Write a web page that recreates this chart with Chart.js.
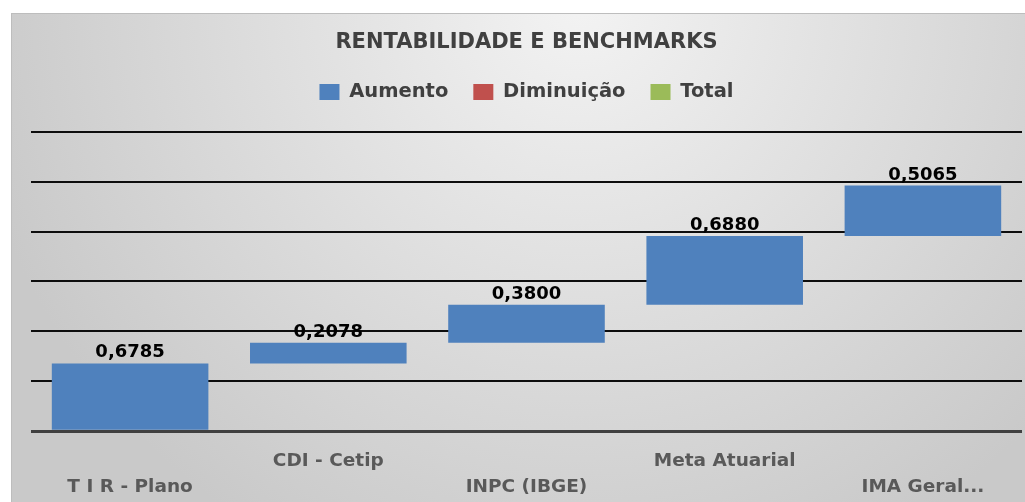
<!DOCTYPE html>
<html>
<head>
<meta charset="utf-8">
<script src="https://cdn.jsdelivr.net/npm/chart.js@4"></script>
<style>
  body { margin: 0; background: #fff; }
  #wrap { width: 1025px; height: 502px; }
</style>
</head>
<body>
<div id="wrap"><canvas id="myChart"></canvas></div>
<script>
// data
const categories = ['T I R - Plano', 'CDI - Cetip', 'INPC (IBGE)', 'Meta Atuarial', 'IMA Geral...'];
const increases = [0.6785, 0.2078, 0.3800, 0.6880, 0.5065];
const yTicks = [0, 0.5, 1, 1.5, 2, 2.5, 3];

// waterfall: each bar floats from the running total
let running = 0;
const floating = increases.map(v => {
  const bar = [running, running + v];
  running += v;
  return bar;
});

const fontFamily = "'DejaVu Sans', sans-serif";

// gray gradient panel behind the chart
const panelBg = {
  id: 'panelBg',
  beforeDraw(chart) {
    const c = chart.ctx;
    c.save();
    c.fillStyle = '#fff';
    c.fillRect(0, 0, chart.width, chart.height);
    const g = c.createRadialGradient(580, 0, 0, 580, 0, 620);
    g.addColorStop(0, '#f3f3f3');
    g.addColorStop(1, '#c9c9c9');
    c.fillStyle = g;
    c.fillRect(11, 13, chart.width - 11, chart.height - 13);
    c.strokeStyle = '#bdbdbd';
    c.lineWidth = 1;
    c.beginPath();
    c.moveTo(11, 13.5);
    c.lineTo(chart.width, 13.5);
    c.moveTo(11.5, 13);
    c.lineTo(11.5, chart.height);
    c.stroke();
    c.restore();
  }
};

// value labels above each bar
const valueLabels = {
  id: 'valueLabels',
  afterDatasetsDraw(chart) {
    const c = chart.ctx;
    const meta = chart.getDatasetMeta(0);
    c.save();
    c.font = "bold 18px " + fontFamily;
    c.fillStyle = '#000';
    c.textAlign = 'center';
    c.textBaseline = 'alphabetic';
    meta.data.forEach((el, i) => {
      c.fillText(increases[i].toFixed(4).replace('.', ','), el.x, el.y - 6);
    });
    c.restore();
  }
};

const ctx = document.getElementById('myChart');

new Chart(ctx, {
  type: 'bar',
  data: {
    labels: categories,
    datasets: [
      {
        label: 'Aumento',
        data: floating,
        backgroundColor: '#4F81BD',
        grouped: false,
        barPercentage: 0.79,
        categoryPercentage: 1,
      },
      {
        label: 'Diminuição',
        data: [],
        backgroundColor: '#C0504D',
        grouped: false,
      },
      {
        label: 'Total',
        data: [],
        backgroundColor: '#9BBB59',
        grouped: false,
      }
    ]
  },
  options: {
    responsive: true,
    maintainAspectRatio: false,
    animation: false,
    layout: {
      padding: { left: 31, right: 3, top: 30, bottom: -15 }
    },
    plugins: {
      title: {
        display: true,
        text: 'RENTABILIDADE E BENCHMARKS',
        color: '#404040',
        font: { family: fontFamily, size: 21, weight: 'bold' },
        padding: { top: 0, bottom: 2 }
      },
      legend: {
        display: true,
        labels: {
          color: '#404040',
          font: { family: fontFamily, size: 19.5, weight: 'bold' },
          boxWidth: 20,
          boxHeight: 16,
          padding: 25
        }
      },
      tooltip: { enabled: false }
    },
    scales: {
      x: {
        grid: { display: false, drawTicks: false },
        border: { display: false },
        ticks: {
          color: '#595959',
          font: { family: fontFamily, size: 18.5, weight: 'bold', lineHeight: 1.4 },
          autoSkip: false,
          maxRotation: 0,
          padding: 17,
          callback: function (val, i) {
            const name = categories[i];
            return i % 2 === 0 ? ['', name] : [name, ''];
          }
        }
      },
      y: {
        min: 0,
        max: 3.2,
        afterBuildTicks: axis => {
          axis.ticks = yTicks.map(v => ({ value: v }));
        },
        ticks: { display: false },
        border: { display: false },
        grid: {
          drawTicks: false,
          color: c => c.tick.value === 0 ? '#404040' : '#0d0d0d',
          lineWidth: c => c.tick.value === 0 ? 3 : 2
        }
      }
    }
  },
  plugins: [panelBg, valueLabels]
});
</script>
</body>
</html>
